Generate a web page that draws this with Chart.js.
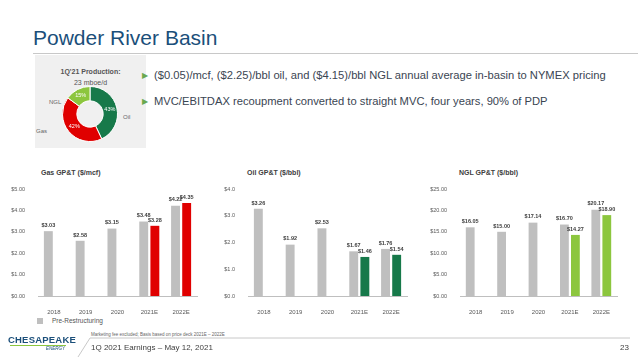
<!DOCTYPE html>
<html>
<head>
<meta charset="utf-8">
<script src="https://cdn.jsdelivr.net/npm/chart.js@4.4.0/dist/chart.umd.min.js"></script>
<style>
  body { margin: 0; width: 638px; height: 359px; background: #fff; font-family: "Liberation Sans", Arial, sans-serif; overflow: hidden; position: relative; }
  .abs { position: absolute; white-space: nowrap; }
  .title { left: 33px; top: 26px; font-size: 21px; color: #1b4f7a; }
  .rule { left: 33px; top: 53px; width: 605px; height: 1px; background: #c8c8c8; }
  .box { left: 35px; top: 55px; width: 111px; height: 93px; background: #f0f0f0; }
  .bullet { left: 142px; font-size: 11.2px; color: #3a4552; }
  .bullet span { color: #6aa84f; font-size: 8px; margin-right: 6px; position: relative; top: -1px; }
  .ctitle { font-size: 7px; font-weight: bold; color: #404040; top: 169px; }
  canvas { position: absolute; }
</style>
</head>
<body>
<div class="abs title">Powder River Basin</div>
<div class="abs rule"></div>
<div class="abs box"></div>
<div class="abs" style="left:35px;width:111px;top:68px;text-align:center;font-size:7px;font-weight:bold;color:#555;">1Q'21 Production:</div>
<div class="abs" style="left:35px;width:111px;top:79px;text-align:center;font-size:7px;color:#555;">23 mboe/d</div>
<div class="abs" style="left:49px;top:99px;font-size:6px;color:#666;">NGL</div>
<div class="abs" style="left:36px;top:128px;font-size:6px;color:#666;">Gas</div>
<div class="abs" style="left:123px;top:114px;font-size:6px;color:#666;">Oil</div>
<canvas id="donut" width="58" height="58" style="left:61px;top:85px;"></canvas>

<div class="abs bullet" style="top:69px;"><span>&#9654;</span>($0.05)/mcf, ($2.25)/bbl oil, and ($4.15)/bbl NGL annual average in-basin to NYMEX pricing</div>
<div class="abs bullet" style="top:95px;"><span>&#9654;</span>MVC/EBITDAX recoupment converted to straight MVC, four years, 90% of PDP</div>

<div class="abs ctitle" style="left:41px;">Gas GP&amp;T ($/mcf)</div>
<div class="abs ctitle" style="left:247px;">Oil GP&amp;T ($/bbl)</div>
<div class="abs ctitle" style="left:459px;">NGL GP&amp;T ($/bbl)</div>
<canvas id="gas" width="202" height="135" style="left:0px;top:180px;"></canvas>
<canvas id="oil" width="202" height="135" style="left:210px;top:180px;"></canvas>
<canvas id="ngl" width="202" height="135" style="left:420px;top:180px;"></canvas>

<div class="abs" style="left:37px;top:318px;width:6px;height:6px;background:#bfbfbf;"></div>
<div class="abs" style="left:52px;top:317px;font-size:6.5px;color:#555;">Pre-Restructuring</div>

<div class="abs" style="left:91px;top:332px;font-size:4.5px;color:#666;">Marketing fee excluded; Basis based on price deck 2021E – 2022E</div>
<svg class="abs" style="left:0;top:0;" width="638" height="359"><polyline points="78,357 90,338 630,338" fill="none" stroke="#c8c8c8" stroke-width="1"/></svg>
<div class="abs" style="left:91px;top:343px;font-size:8px;color:#404040;">1Q 2021 Earnings – May 12, 2021</div>
<div class="abs" style="left:620px;top:343px;font-size:8px;color:#404040;">23</div>
<div class="abs" style="left:8px;top:334px;font-size:9.5px;font-weight:bold;color:#1b4f7a;letter-spacing:0.2px;">CHESAPEAKE</div>
<div class="abs" style="left:10px;top:345px;width:56px;height:1px;background:#8cc63e;"></div>
<div class="abs" style="left:46px;top:346px;font-size:4.5px;font-style:italic;color:#1b4f7a;">ENERGY</div>

<script>
const years = ['2018', '2019', '2020', '2021E', '2022E'];

const gasPre = [3.03, 2.58, 3.15, 3.48, 4.22];
const gasPost = [null, null, null, 3.28, 4.35];
const gasTicks = { max: 5, step: 1, digits: 2 };

const oilPre = [3.26, 1.92, 2.53, 1.67, 1.76];
const oilPost = [null, null, null, 1.46, 1.54];
const oilTicks = { max: 4, step: 1, digits: 1 };

const nglPre = [16.05, 15.00, 17.14, 16.70, 20.17];
const nglPost = [null, null, null, 14.27, 18.90];
const nglTicks = { max: 25, step: 5, digits: 2 };

const prodLabels = ['Oil', 'Gas', 'NGL'];
const prodShare = [43, 42, 15];

const GRAY = '#bfbfbf';
const FONT = '"Liberation Sans", Arial, sans-serif';

// price labels sitting just above each bar
const barLabels = {
  id: 'barLabels',
  afterDatasetsDraw(chart) {
    const ctx = chart.ctx;
    ctx.save();
    ctx.font = 'bold 5.5px ' + FONT;
    ctx.fillStyle = '#404040';
    ctx.textAlign = 'center';
    ctx.textBaseline = 'bottom';
    chart.data.datasets.forEach((ds, i) => {
      chart.getDatasetMeta(i).data.forEach((bar, j) => {
        const v = ds.data[j];
        if (v == null) return;
        ctx.fillText('$' + v.toFixed(2), bar.x, bar.y - 3);
      });
    });
    ctx.restore();
  }
};

function barChart(id, pre, post, color, t, yw) {
  new Chart(document.getElementById(id), {
    type: 'bar',
    data: {
      labels: years,
      datasets: [
        { data: pre, backgroundColor: GRAY },
        { data: post, backgroundColor: color }
      ]
    },
    options: {
      responsive: false,
      animation: false,
      layout: { padding: { top: 9, right: 5, left: 0, bottom: 0 } },
      categoryPercentage: 0.7,
      barPercentage: 0.8,
      plugins: { legend: { display: false }, tooltip: { enabled: false } },
      scales: {
        x: {
          grid: { display: false },
          border: { display: true, color: '#bfbfbf' },
          ticks: { color: '#595959', font: { size: 6, family: FONT }, padding: 5 },
          afterFit(s) { s.height = 19; }
        },
        y: {
          min: 0, max: t.max,
          grid: { display: false },
          border: { display: false },
          ticks: {
            stepSize: t.step, color: '#595959', padding: 5,
            font: { size: 5.5, family: FONT },
            callback: v => '$' + v.toFixed(t.digits)
          },
          afterFit(s) { s.width = yw; }
        }
      }
    },
    plugins: [barLabels]
  });
}

barChart('gas', gasPre, gasPost, '#e00000', gasTicks, 38);
barChart('oil', oilPre, oilPost, '#17794a', oilTicks, 38);
barChart('ngl', nglPre, nglPost, '#8cc63e', nglTicks, 40);

const donutLabels = {
  id: 'donutLabels',
  afterDatasetsDraw(chart) {
    const ctx = chart.ctx;
    ctx.save();
    ctx.font = '5.5px ' + FONT;
    ctx.fillStyle = '#fff';
    ctx.textAlign = 'center';
    ctx.textBaseline = 'middle';
    chart.getDatasetMeta(0).data.forEach((arc, i) => {
      const p = arc.tooltipPosition();
      ctx.fillText(prodShare[i] + '%', p.x, p.y);
    });
    ctx.restore();
  }
};

new Chart(document.getElementById('donut'), {
  type: 'doughnut',
  data: {
    labels: prodLabels,
    datasets: [{
      data: prodShare,
      backgroundColor: ['#17794a', '#e00000', '#8cc63e'],
      borderColor: '#ffffff',
      borderWidth: 1
    }]
  },
  options: {
    responsive: false,
    animation: false,
    cutout: '48%',
    layout: { padding: 1 },
    plugins: { legend: { display: false }, tooltip: { enabled: false } }
  },
  plugins: [donutLabels]
});
</script>
</body>
</html>
